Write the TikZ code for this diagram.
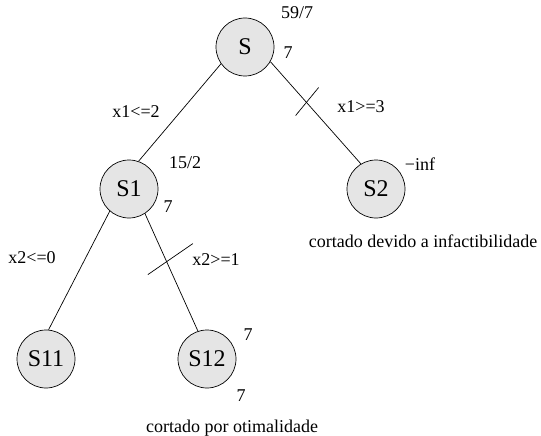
\documentclass[tikz,border=0pt]{standalone}
\usepackage{fontspec}
\setmainfont{Liberation Serif}
\newfontfamily\treefont{Liberation Serif}
\definecolor{nodegray}{RGB}{229,229,229}
\begin{document}
\begin{tikzpicture}[x=1pt,y=-1pt,
  state/.style={circle,draw,line width=0.7pt,fill=nodegray,minimum size=58pt,
    inner sep=0pt,font=\treefont\fontsize{24}{26}\selectfont},
  lbl/.style={inner sep=0pt,font=\treefont\fontsize{18}{20}\selectfont},
  branch/.style={line width=0.7pt},
  cutmark/.style={line width=0.7pt}]
\useasboundingbox (0,0) rectangle (541,436);

% branch-and-bound tree nodes
\node[state] (S)   at (245,47)  {S};
\node[state] (S1)  at (129,189) {S1};
\node[state] (S2)  at (376,189) {S2};
\node[state] (S11) at (46,359)  {S11};
\node[state] (S12) at (207,359) {S12};

% branches
\draw[branch] (S.215) -- (S1.71);
\draw[branch] (S.-30) -- coordinate[pos=0.40] (cutA) (S2.121);
\draw[branch] (S1.229) -- (S11.85);
\draw[branch] (S1.-57) -- coordinate[pos=0.40] (cutB) (S12.108);

% pruned branches
\draw[cutmark] (cutA) ++(-11,13) -- ++(23,-28);
\draw[cutmark] (cutB) ++(-18.3,14) -- ++(45,-31);

% bounds
\node[lbl] (ubS)   at (297,13)  {59/7};
\node[lbl] (lbS)   at (288,53)  {7};
\node[lbl] (ubS1)  at (185,163) {15/2};
\node[lbl] (lbS1)  at (168,207) {7};
\node[lbl] (ubS2)  at (420,164) {−inf};
\node[lbl] (ubS12) at (248,335) {7};
\node[lbl] (lbS12) at (241,396) {7};

% branching constraints
\node[lbl] (c1) at (136,112) {x1<=2};
\node[lbl] (c2) at (361,107) {x1>=3};
\node[lbl] (c3) at (32,258)  {x2<=0};
\node[lbl] (c4) at (216,260) {x2>=1};

% pruning notes
\node[lbl,anchor=base] (noteS2)  at (423,247) {cortado devido a infactibilidade};
\node[lbl,anchor=base] (noteS12) at (232,432) {cortado por otimalidade};
\end{tikzpicture}
\end{document}
